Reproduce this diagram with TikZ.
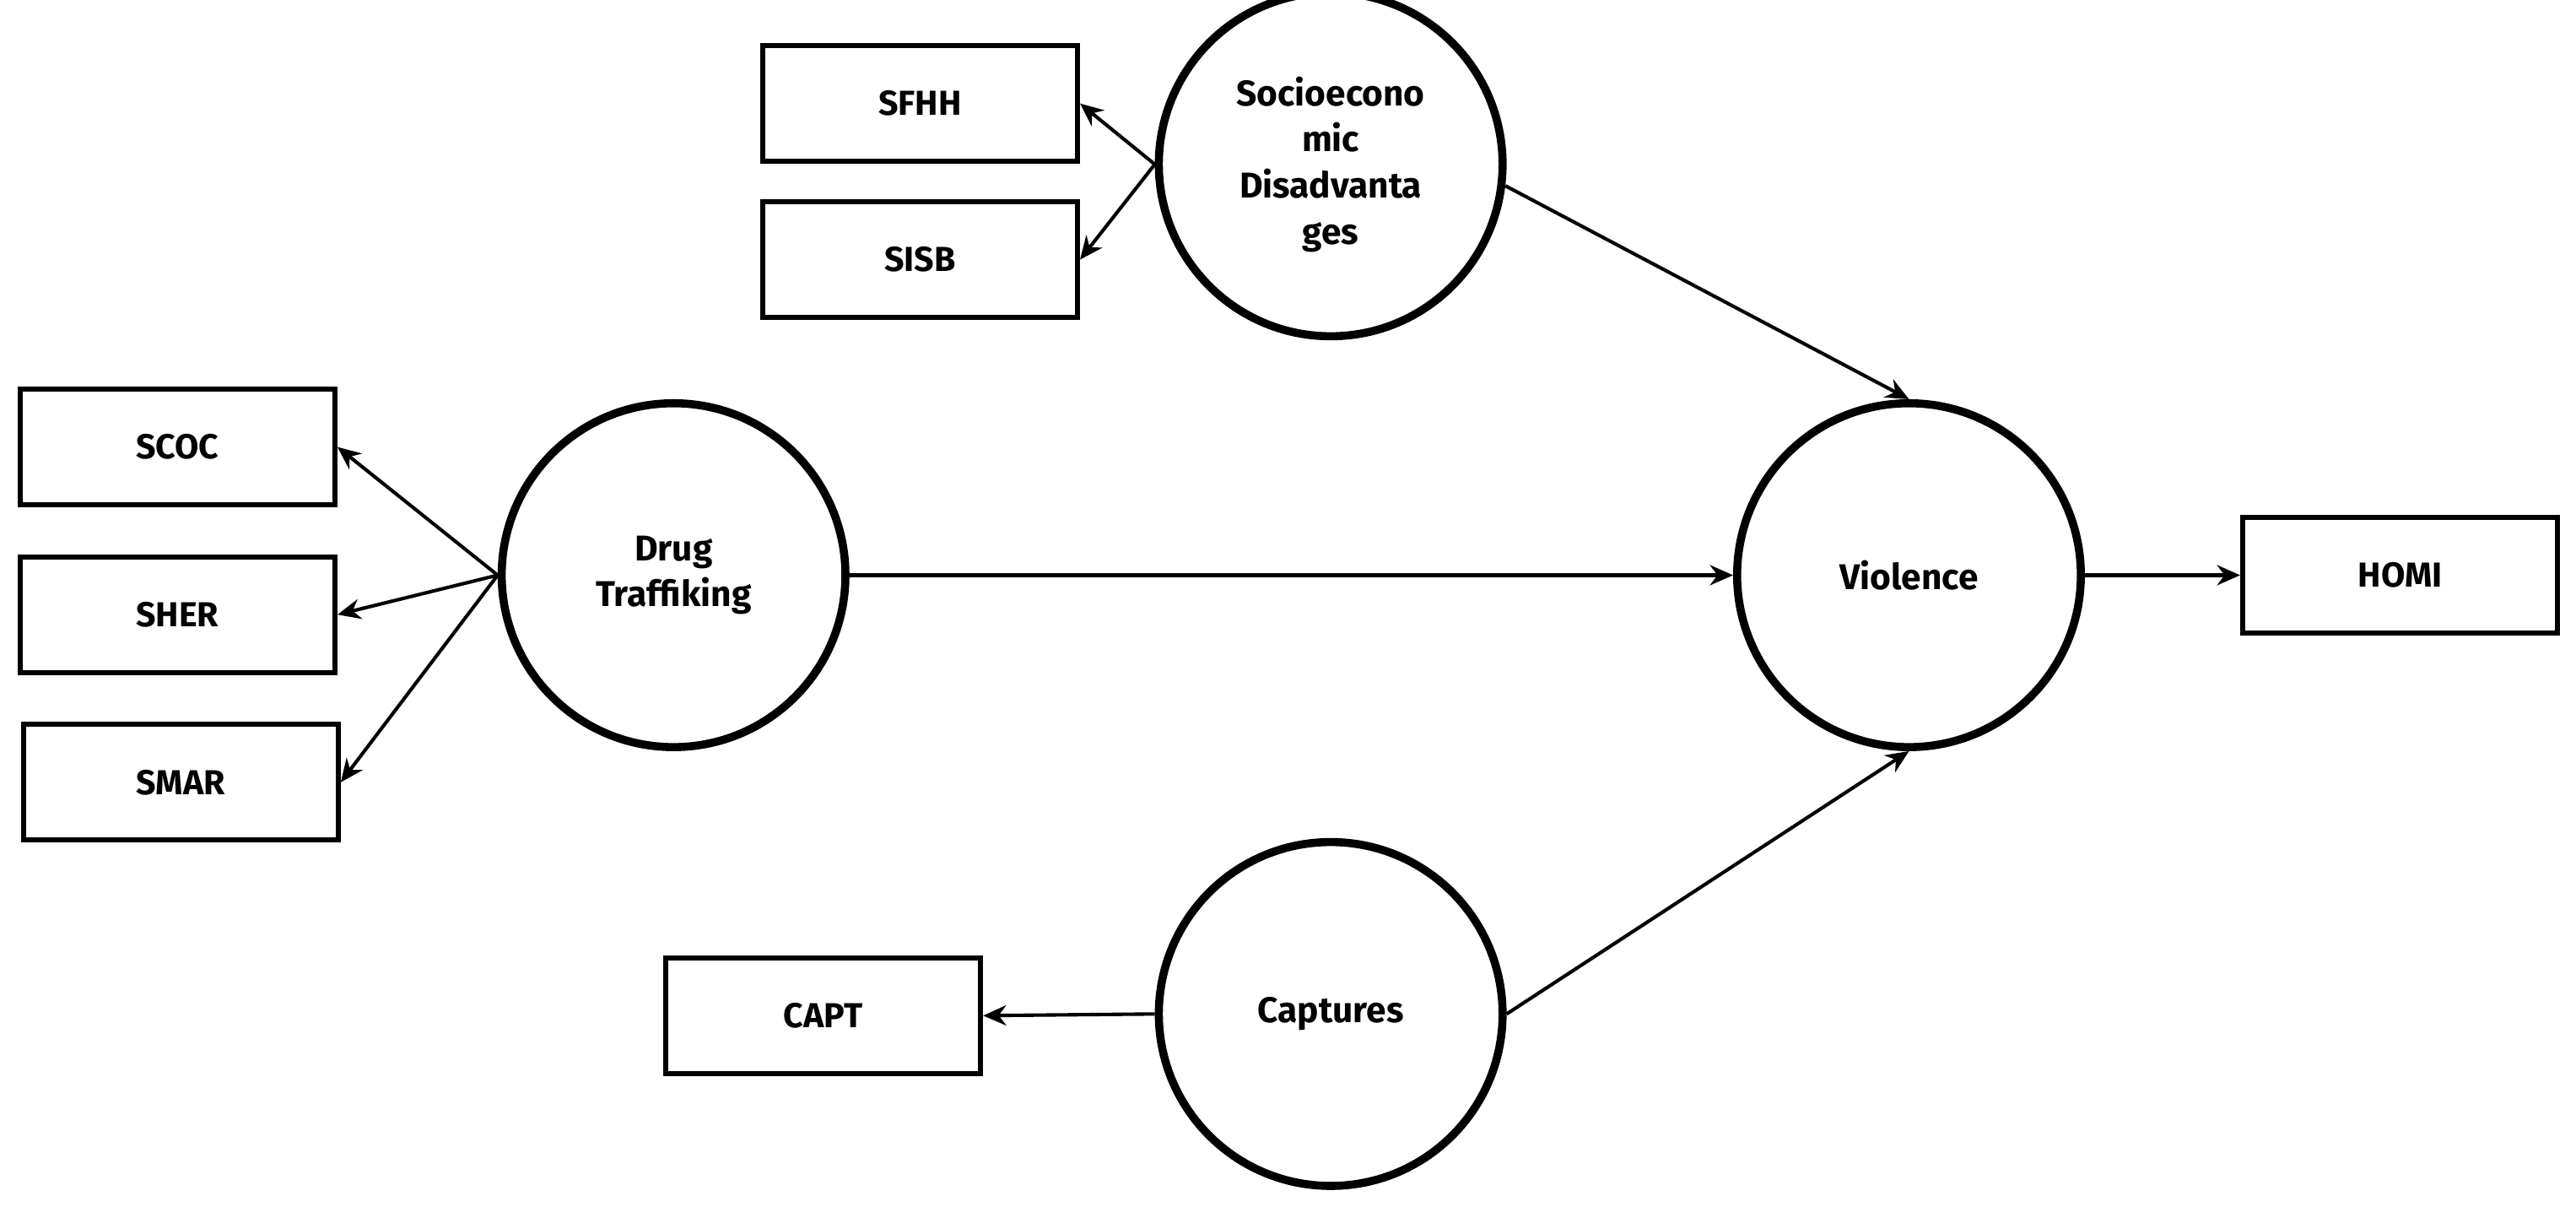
\documentclass[tikz,border=0pt]{standalone}
\usepackage{fontspec}
\setmainfont{Fira Sans}
\usetikzlibrary{arrows.meta}
\begin{document}
\begin{tikzpicture}[x=0.01cm,y=-0.01cm,
  box/.style={draw,line width=0.9pt,minimum width=54.5pt,minimum height=20pt,inner sep=0pt,font=\fontsize{6pt}{7pt}\selectfont\bfseries},
  lv/.style={draw,circle,line width=1.4pt,minimum size=59.5pt,inner sep=0pt,align=center,font=\fontsize{6.2pt}{8pt}\selectfont\bfseries},
  ar/.style={-{Stealth[length=4pt,width=3.5pt]},line width=0.6pt}]
\useasboundingbox (0,0) rectangle (1568,734);
\node[box] (sfhh) at (560,63) {SFHH};
\node[box] (sisb) at (560,158) {SISB};
\node[box] (scoc) at (108,272) {SCOC};
\node[box] (sher) at (108,374) {SHER};
\node[box] (smar) at (110,476) {SMAR};
\node[box] (capt) at (501,618) {CAPT};
\node[box] (homi) at (1461,350) {HOMI};
\node[lv] (soc) at (810,100) {Socioecono\\mic\\Disadvanta\\ges};
\node[lv] (drug) at (410,350) {Drug\\Traffiking};
\node[lv] (vio) at (1162,350) {Violence};
\node[lv] (cap) at (810,617) {Captures};
\draw[ar] (soc.west) -- (sfhh.east);
\draw[ar] (soc.west) -- (sisb.east);
\draw[ar] (drug.west) -- (scoc.east);
\draw[ar] (drug.west) -- (sher.east);
\draw[ar] (drug.west) -- (smar.east);
\draw[ar] (cap.west) -- (capt.east);
\draw[ar] (drug.east) -- (vio.west);
\draw[ar] (vio.east) -- (homi.west);
\draw[ar] (soc.-7) -- (vio.north);
\draw[ar] (cap.east) -- (vio.south);
\end{tikzpicture}
\end{document}
